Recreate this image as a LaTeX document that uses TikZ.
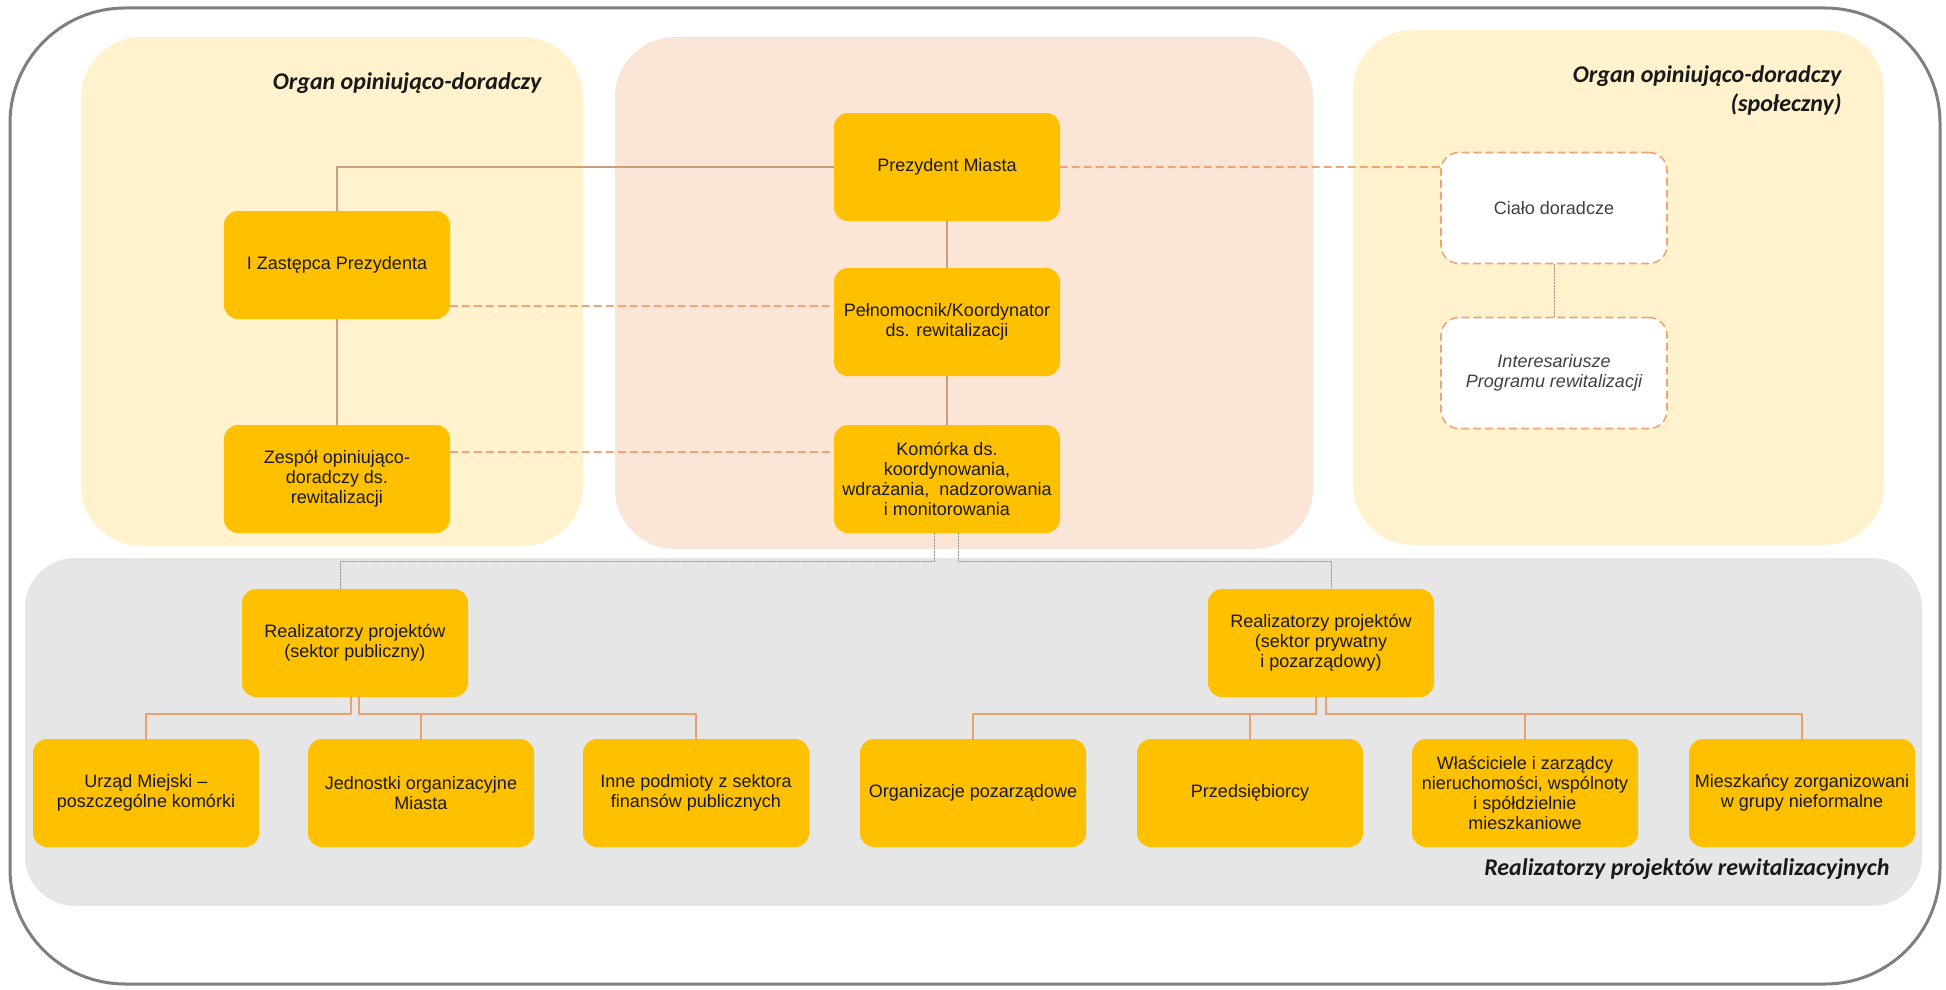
\documentclass[tikz,border=0pt]{standalone}
\usepackage{fontspec}
\setmainfont{Liberation Sans}
\newfontfamily\titlefont{Carlito}
\usetikzlibrary{calc}
\definecolor{boxgold}{HTML}{FFC000}
\definecolor{sideyel}{HTML}{FFF2CC}
\definecolor{midpeach}{HTML}{FBE5D6}
\definecolor{lowgray}{HTML}{E7E6E6}
\definecolor{framegray}{HTML}{7F7F7F}
\definecolor{linkbrown}{HTML}{C9A07E}
\definecolor{linkorange}{HTML}{F2A474}
\definecolor{dotgray}{HTML}{A8998A}
\definecolor{treeline}{HTML}{E9A06E}

\begin{document}
\begin{tikzpicture}[x=1pt,y=-1pt,line cap=round,line join=round,
    orgbox/.style={rectangle,rounded corners=14pt,fill=boxgold,minimum width=226pt,minimum height=108pt,
      align=center,inner sep=3pt,text=black!90,font=\fontsize{18}{20}\selectfont},
    advbox/.style={orgbox,fill=white,draw=linkorange,line width=1.6pt,dash pattern=on 7pt off 5pt,
      text=black!75,minimum height=111pt,rounded corners=18pt},
    grouptitle/.style={font=\titlefont\bfseries\itshape\fontsize{24}{29}\selectfont,align=right,anchor=east,text=black!90},
    solidlink/.style={draw=linkbrown,line width=1.5pt},
    dashlink/.style={draw=linkorange,line width=1.6pt,dash pattern=on 7pt off 5pt},
    dotlink/.style={draw=dotgray,line width=1pt,dash pattern=on 1.5pt off 1.5pt},
    treelink/.style={draw=treeline,line width=2.2pt}]
  \useasboundingbox (0,0) rectangle (1946,990);

  % group panels
  \fill[sideyel,rounded corners=60pt] (81,37) rectangle (583,546);
  \fill[midpeach,rounded corners=60pt] (615,37) rectangle (1313,549);
  \fill[sideyel,rounded corners=60pt] (1353,30) rectangle (1884,545);
  \fill[lowgray,rounded corners=50pt] (25,558) rectangle (1922,906);
  \draw[framegray,line width=3pt,rounded corners=115pt] (10,8) rectangle (1940,984);

  \node[grouptitle] (titleleft) at (545,83) {Organ opiniująco-doradczy};
  \node[grouptitle] (titleright) at (1845,90) {Organ opiniująco-doradczy\\(społeczny)};
  \node[grouptitle] (titlelow) at (1893,869) {Realizatorzy projektów rewitalizacyjnych};

  % city office
  \node[orgbox] (prez) at (947,167) {Prezydent Miasta};
  \node[orgbox] (pel) at (947,322) {Pełnomocnik/Koordynator\\ds. rewitalizacji};
  \node[orgbox] (kom) at (947,479) {Komórka ds.\\koordynowania,\\wdrażania,\ \ nadzorowania\\i monitorowania};
  \node[orgbox] (zast) at (337,265) {I Zastępca Prezydenta};
  \node[orgbox] (zesp) at (337,479) {Zespół opiniująco-\\doradczy ds.\\rewitalizacji};
  \node[advbox] (cialo) at (1554,208) {Ciało doradcze};
  \node[advbox,font=\itshape\fontsize{18}{20}\selectfont] (inter) at (1554,373) {Interesariusze\\Programu rewitalizacji};

  % project partners
  \node[orgbox] (realpub) at (355,643) {Realizatorzy projektów\\(sektor publiczny)};
  \node[orgbox] (realpryw) at (1321,643) {Realizatorzy projektów\\(sektor prywatny\\i pozarządowy)};
  \node[orgbox] (urzad) at (146,793) {Urząd Miejski --\\poszczególne komórki};
  \node[orgbox] (jedn) at (421,793) {Jednostki organizacyjne\\Miasta};
  \node[orgbox] (inne) at (696,793) {Inne podmioty z sektora\\finansów publicznych};
  \node[orgbox] (ngo) at (973,793) {Organizacje pozarządowe};
  \node[orgbox] (przeds) at (1250,793) {Przedsiębiorcy};
  \node[orgbox] (wlasc) at (1525,793) {Właściciele i zarządcy\\nieruchomości, wspólnoty\\i spółdzielnie\\mieszkaniowe};
  \node[orgbox] (miesz) at (1802,793) {Mieszkańcy zorganizowani\\w grupy nieformalne};

  \draw[solidlink] (prez.west) -| (zast.north);
  \draw[solidlink] (zast.south) -- (zesp.north);
  \draw[solidlink] (prez.south) -- (pel.north);
  \draw[solidlink] (pel.south) -- (kom.north);
  \draw[dashlink] (prez.east) -- (prez.east -| cialo.west);
  \draw[dotlink] (cialo.south) -- (inter.north);
  \draw[dashlink] ($(zast.east)+(0,41)$) -- ($(pel.west)+(0,-16)$);
  \draw[dashlink] ($(zesp.east)+(0,-27)$) -- ($(kom.west)+(0,-27)$);

  \draw[dotlink] ($(kom.south)+(-13,0)$) -- ++(0,28) -| ($(realpub.north)+(-15,0)$);
  \draw[dotlink] ($(kom.south)+(11,0)$) -- ++(0,28) -| ($(realpryw.north)+(10,0)$);
  \foreach \kid/\side in {urzad/-4,jedn/4,inne/4}
    \draw[treelink] ($(realpub.south)+(\side,0)$) -- ++(0,17) -| (\kid.north);
  \foreach \kid/\side in {ngo/-5,przeds/-5,wlasc/5,miesz/5}
    \draw[treelink] ($(realpryw.south)+(\side,0)$) -- ++(0,17) -| (\kid.north);
\end{tikzpicture}
\end{document}
